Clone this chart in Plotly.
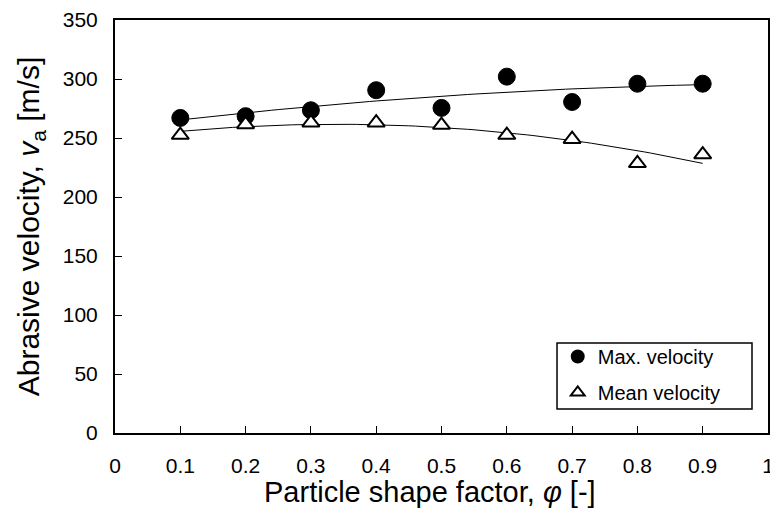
import numpy as np
import plotly.graph_objects as go

shape_factor = [0.1, 0.2, 0.3, 0.4, 0.5, 0.6, 0.7, 0.8, 0.9]
max_velocity = [267, 268.5, 273.5, 290.5, 275.5, 302, 280.5, 296, 296]
mean_velocity = [252.5, 261.5, 263, 263, 261, 252.5, 249, 228.5, 236]
x_ticks = [0, 0.1, 0.2, 0.3, 0.4, 0.5, 0.6, 0.7, 0.8, 0.9, 1]
y_ticks = [0, 50, 100, 150, 200, 250, 300, 350]

# 2nd-order polynomial trendlines computed from the data
xf = np.linspace(min(shape_factor), max(shape_factor), 81)
fit_max = np.polyval(np.polyfit(shape_factor, max_velocity, 2), xf)
fit_mean = np.polyval(np.polyfit(shape_factor, mean_velocity, 2), xf)

font = "Liberation Sans, Arial, sans-serif"

fig = go.Figure()
fig.add_trace(go.Scatter(x=xf, y=fit_max, mode="lines", line=dict(color="black", width=1),
                         showlegend=False, hoverinfo="skip"))
fig.add_trace(go.Scatter(x=xf, y=fit_mean, mode="lines", line=dict(color="black", width=1),
                         showlegend=False, hoverinfo="skip"))
fig.add_trace(go.Scatter(x=shape_factor, y=max_velocity, mode="markers", name="Max. velocity",
                         legendgroup="max",
                         marker=dict(symbol="circle", size=17, color="black",
                                     line=dict(color="black", width=1))))
fig.add_trace(go.Scatter(x=shape_factor, y=mean_velocity, mode="markers", name="Mean velocity",
                         legendgroup="mean",
                         marker=dict(symbol="triangle-up", size=15, color="white",
                                     line=dict(color="black", width=2))))

axis_common = dict(showline=True, linecolor="black", linewidth=2, mirror=True,
                   ticks="inside", ticklen=7, tickwidth=1, tickcolor="black",
                   showgrid=False, zeroline=False, automargin=False,
                   ticklabeloverflow="allow",
                   tickfont=dict(family=font, size=21, color="black"))

fig.update_xaxes(range=[0, 1], tickvals=x_ticks, ticktext=[f"{v:g}" for v in x_ticks],
                 ticklabelstandoff=13, **axis_common)
fig.update_yaxes(range=[0, 350], tickvals=y_ticks, ticklabelstandoff=11,
                 title=dict(text="Abrasive velocity, <i>v</i><sub>a</sub> [m/s]",
                            font=dict(family=font, size=30, color="black"), standoff=14),
                 **axis_common)

# x-axis title
fig.add_annotation(text="Particle shape factor, <i>φ</i> [-]", xref="paper", yref="paper",
                   x=0.4824, y=0, xanchor="center", yanchor="middle", yshift=-59,
                   showarrow=False, font=dict(family=font, size=29, color="black"))

# legend frame
fig.add_shape(type="rect", xref="paper", yref="paper", x0=0.6769, x1=0.9755, y0=0.0581, y1=0.2179,
              line=dict(color="black", width=1.5), fillcolor="white", layer="below")

fig.update_layout(
    width=770, height=511,
    margin=dict(l=107, r=10, t=12, b=86),
    paper_bgcolor="white", plot_bgcolor="white",
    font=dict(family=font, color="black"),
    legend=dict(x=0.678, y=0.051, xanchor="left", yanchor="bottom",
                borderwidth=0, bgcolor="rgba(0,0,0,0)",
                font=dict(family=font, size=20, color="black"),
                itemsizing="constant", itemwidth=30, tracegroupgap=7),
)

fig.write_html("out.html")
